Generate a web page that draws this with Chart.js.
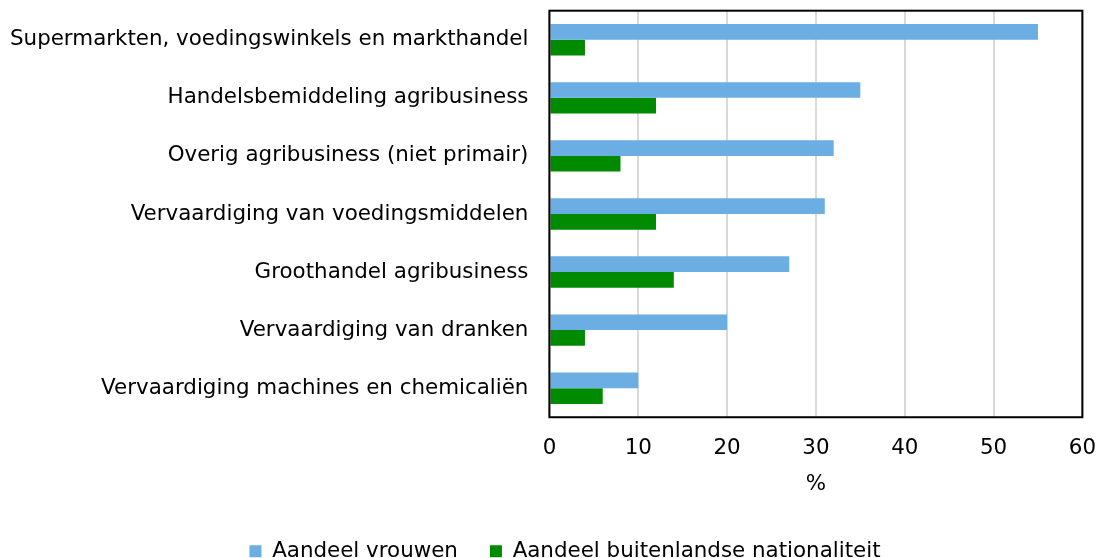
<!DOCTYPE html>
<html>
<head>
<meta charset="utf-8">
<script src="https://cdn.jsdelivr.net/npm/chart.js@4/dist/chart.umd.min.js"></script>
<style>
html,body{margin:0;padding:0;background:#fff;}
#wrap{width:1098px;height:558px;position:relative;}
</style>
</head>
<body>
<div id="wrap"><canvas id="c" width="1098" height="558"></canvas></div>
<script>
const categories = [
  "Supermarkten, voedingswinkels en markthandel",
  "Handelsbemiddeling agribusiness",
  "Overig agribusiness (niet primair)",
  "Vervaardiging van voedingsmiddelen",
  "Groothandel agribusiness",
  "Vervaardiging van dranken",
  "Vervaardiging machines en chemicaliën"
];
const aandeelVrouwen = [55, 35, 32, 31, 27, 20, 10];
const aandeelBuitenlands = [4, 12, 8, 12, 14, 4, 6];
const seriesNames = ["Aandeel vrouwen", "Aandeel buitenlandse nationaliteit"];
const xTicks = [0, 10, 20, 30, 40, 50, 60];
const xTitle = "%";

const FONT = "'DejaVu Sans', Verdana, sans-serif";
const FS = 21.4;

const borderPlugin = {
  id: 'plotBorder',
  afterLayout(chart) {
    const lg = chart.legend;
    if (lg) { lg.left += 11; lg.right += 11; }
  },
  afterDraw(chart) {
    const a = chart.chartArea, ctx = chart.ctx;
    ctx.save();
    ctx.strokeStyle = '#000';
    ctx.lineWidth = 2;
    ctx.strokeRect(a.left, a.top, a.right - a.left, a.bottom - a.top);
    ctx.restore();
  }
};

new Chart(document.getElementById('c'), {
  type: 'bar',
  data: {
    labels: categories,
    datasets: [
      { label: seriesNames[0], data: aandeelVrouwen, backgroundColor: '#6AAEE3', borderWidth: 0 },
      { label: seriesNames[1], data: aandeelBuitenlands, backgroundColor: '#008A00', borderWidth: 0 }
    ]
  },
  options: {
    indexAxis: 'y',
    responsive: false,
    animation: false,
    layout: { padding: { left: 10, right: 0, top: 0, bottom: -14 } },
    datasets: { bar: { categoryPercentage: 0.54, barPercentage: 1.0 } },
    scales: {
      x: {
        min: 0, max: 60,
        afterBuildTicks(axis) { axis.ticks = xTicks.map(v => ({ value: v })); },
        grid: { color: '#D9D9D9', lineWidth: 2, drawTicks: true, tickLength: 16, tickColor: 'rgba(0,0,0,0)' },
        border: { display: false },
        ticks: { color: '#000', font: { family: FONT, size: FS }, padding: 2 },
        title: { display: true, text: xTitle, color: '#000', font: { family: FONT, size: FS }, padding: { top: 9, bottom: 11 } }
      },
      y: {
        grid: { display: false, drawTicks: true, tickLength: 21 },
        border: { display: false },
        ticks: { color: '#000', font: { family: FONT, size: FS, lineHeight: 1.0 }, padding: 0 }
      }
    },
    plugins: {
      legend: {
        position: 'bottom',
        labels: {
          color: '#000',
          font: { family: FONT, size: FS },
          boxWidth: 12, boxHeight: 12,
          padding: 32,
          useBorderRadius: false
        }
      },
      tooltip: { enabled: false }
    }
  },
  plugins: [borderPlugin]
});
</script>
</body>
</html>
